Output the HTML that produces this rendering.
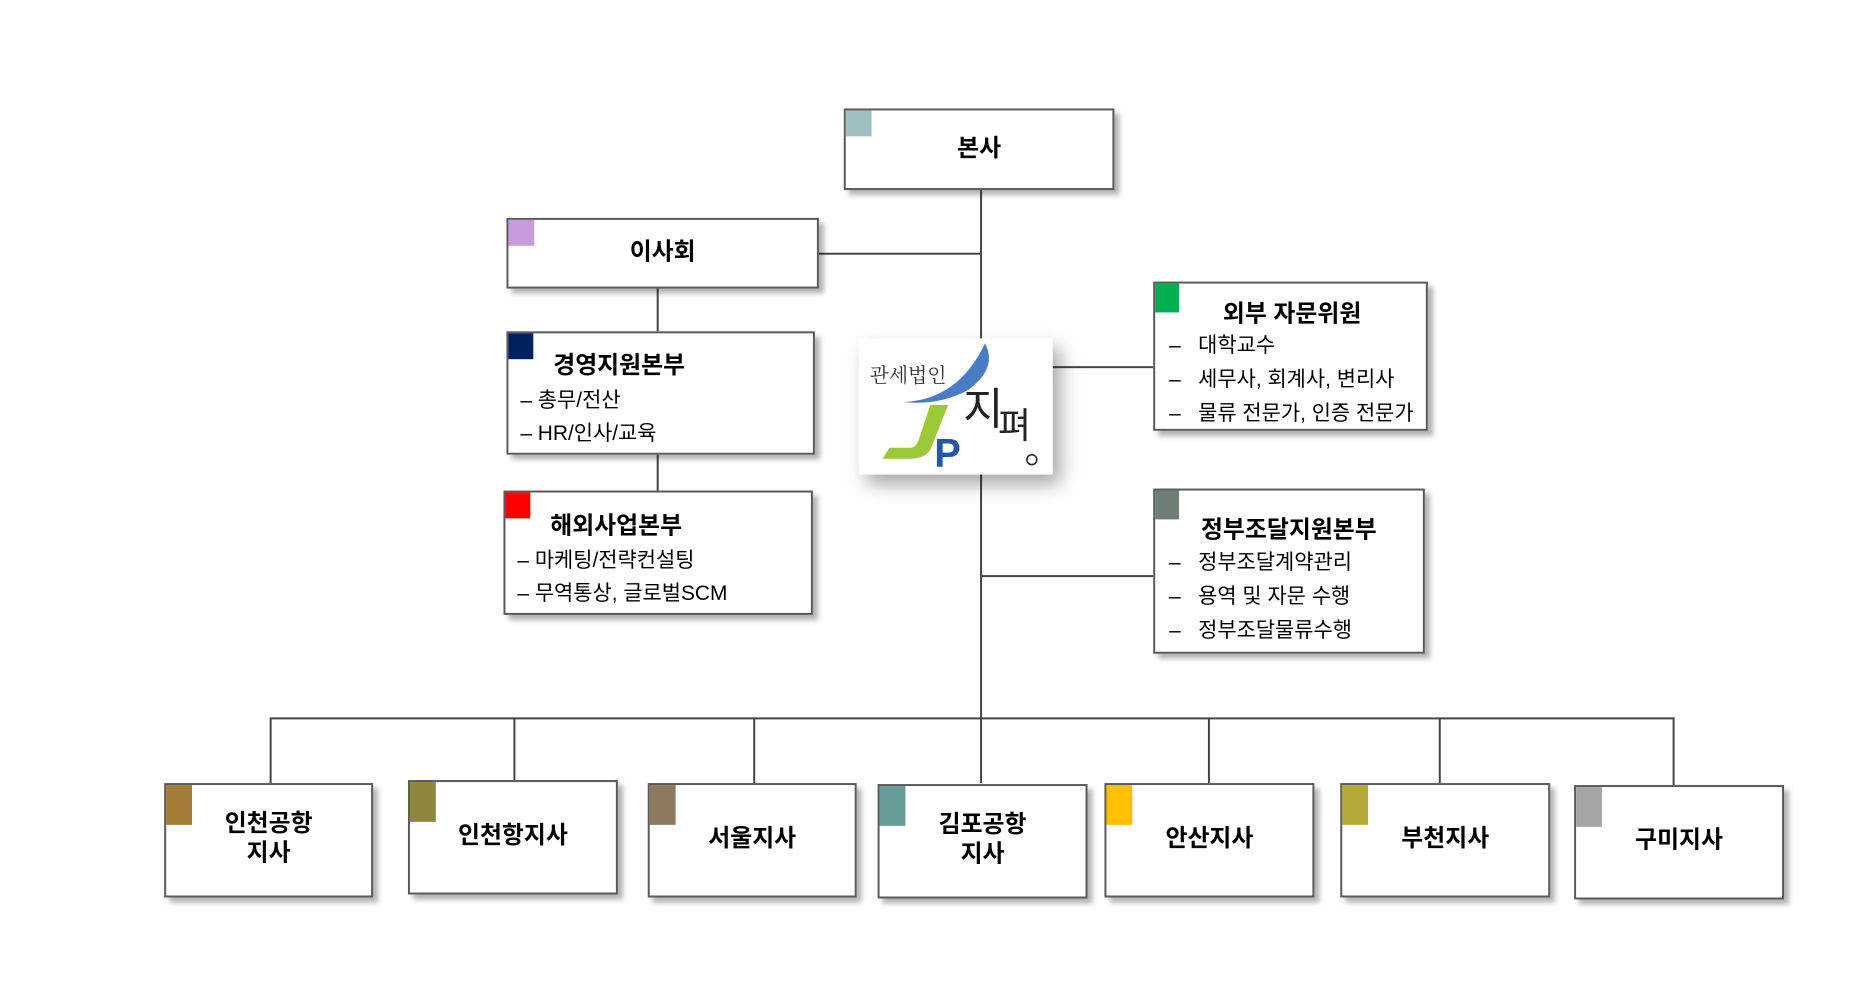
<!DOCTYPE html>
<html><head><meta charset="utf-8"><style>
body{margin:0;width:1863px;height:985px;background:#fff;position:relative;overflow:hidden;font-family:"Liberation Sans","Noto Sans CJK KR",sans-serif;color:#000}
#w{position:absolute;left:0;top:0;width:1863px;height:985px;transform:scale(0.995);transform-origin:0 0}
.b{position:absolute;box-sizing:border-box;border:2px solid #5a5a5a;background:#fff;box-shadow:5px 5px 5px rgba(0,0,0,.3)}
.sq{position:absolute;left:0;top:0;width:26px;height:26px}
.t{position:absolute;font-weight:bold;font-size:24px;white-space:nowrap}
.c{position:absolute;left:0;right:0;text-align:center;font-weight:bold;font-size:24px;line-height:30px}
.l{position:absolute;font-size:21px;white-space:nowrap}
.h{position:absolute;background:#444;height:2px}
.v{position:absolute;background:#444;width:2px}
</style></head><body><div id="w">
<div class="v" style="left:985px;top:191px;height:531px"></div>
<div class="h" style="left:823px;top:254px;width:163px"></div>
<div class="v" style="left:660px;top:290px;height:43px"></div>
<div class="v" style="left:660px;top:457px;height:36px"></div>
<div class="h" style="left:1058px;top:368px;width:101px"></div>
<div class="h" style="left:986px;top:578px;width:173px"></div>
<div class="h" style="left:272px;top:721px;width:1411px"></div>
<div class="v" style="left:271px;top:721px;height:66px"></div>
<div class="v" style="left:516px;top:721px;height:63px"></div>
<div class="v" style="left:757px;top:721px;height:66px"></div>
<div class="v" style="left:985px;top:721px;height:66px"></div>
<div class="v" style="left:1214px;top:721px;height:66px"></div>
<div class="v" style="left:1446px;top:721px;height:66px"></div>
<div class="v" style="left:1681px;top:721px;height:68px"></div>

<div class="b" style="left:848px;top:109px;width:272px;height:82px"><div class="sq" style="background:#9fc0c0"></div><div class="c" style="top:24px">본사</div></div>
<div class="b" style="left:509px;top:219px;width:314px;height:71px"><div class="sq" style="background:#c89cdc"></div><div class="c" style="top:18px">이사회</div></div>
<div class="b" style="left:509px;top:333px;width:310px;height:124px"><div class="sq" style="background:#002060;width:25px"></div>
<div class="t" style="left:45px;top:12px">경영지원본부</div>
<div class="l" style="left:12px;top:51px">– 총무/전산</div>
<div class="l" style="left:12px;top:84px">– HR/인사/교육</div></div>
<div class="b" style="left:506px;top:493px;width:311px;height:125px"><div class="sq" style="background:#ff0000;width:25px"></div>
<div class="t" style="left:45px;top:13px">해외사업본부</div>
<div class="l" style="left:12px;top:52px">– 마케팅/전략컨설팅</div>
<div class="l" style="left:12px;top:85px">– 무역통상, 글로벌SCM</div></div>

<div class="b" style="left:1159px;top:283px;width:276px;height:150px"><div class="sq" style="background:#00b050;width:24px;height:29px"></div>
<div class="t" style="left:68px;top:10px">외부 자문위원</div>
<div class="l" style="left:14px;top:46px">–&nbsp;&nbsp; 대학교수</div>
<div class="l" style="left:14px;top:80px">–&nbsp;&nbsp; 세무사, 회계사, 변리사</div>
<div class="l" style="left:14px;top:114px">–&nbsp;&nbsp; 물류 전문가, 인증 전문가</div></div>
<div class="b" style="left:1159px;top:491px;width:273px;height:166px"><div class="sq" style="background:#6f7f76;width:24px;height:29px"></div>
<div class="t" style="left:46px;top:19px">정부조달지원본부</div>
<div class="l" style="left:14px;top:56px">–&nbsp;&nbsp; 정부조달계약관리</div>
<div class="l" style="left:14px;top:90px">–&nbsp;&nbsp; 용역 및 자문 수행</div>
<div class="l" style="left:14px;top:124px">–&nbsp;&nbsp; 정부조달물류수행</div></div>

<div style="position:absolute;left:863px;top:340px;width:195px;height:137px;background:#fff;box-shadow:8px 10px 18px rgba(0,0,0,.35)">
<svg width="195" height="137" viewBox="0 0 195 137">
<text x="11" y="44" font-family="Noto Serif CJK SC, serif" font-size="20" fill="#333">관세법인</text>
<path d="M45 64 Q100 62 127 5 Q140 30 110 52 Q80 68 45 64Z" fill="#4a7cc4"/>
<path d="M72 67 L90 67 L72 112 Q66 121 52 121 L24 121 L31 110 L52 110 Q58 110 61 100 Z" fill="#9cc93a"/>
<text x="76" y="129" font-family="Liberation Sans, sans-serif" font-weight="bold" font-size="40" fill="#2458a8">P</text>
<text x="105" y="86" font-family="Noto Sans CJK KR, sans-serif" font-size="44" fill="#222">지</text>
<text x="140" y="100" font-family="Noto Sans CJK KR, sans-serif" font-size="36" fill="#222">펴</text>
<circle cx="174" cy="122" r="5" fill="none" stroke="#222" stroke-width="1.5"/>
</svg></div>

<div class="b" style="left:165px;top:787px;width:210px;height:115px"><div class="sq" style="background:#a57b38;height:40px"></div><div class="c" style="top:24px">인천공항<br>지사</div></div>
<div class="b" style="left:410px;top:784px;width:211px;height:115px"><div class="sq" style="background:#8c873d;height:40px"></div><div class="c" style="top:39px">인천항지사</div></div>
<div class="b" style="left:651px;top:787px;width:210px;height:115px"><div class="sq" style="background:#8e785e;height:40px"></div><div class="c" style="top:39px">서울지사</div></div>
<div class="b" style="left:882px;top:788px;width:211px;height:115px"><div class="sq" style="background:#679b97;height:40px"></div><div class="c" style="top:24px">김포공항<br>지사</div></div>
<div class="b" style="left:1110px;top:787px;width:211px;height:115px"><div class="sq" style="background:#ffc000;height:40px"></div><div class="c" style="top:39px">안산지사</div></div>
<div class="b" style="left:1347px;top:787px;width:211px;height:115px"><div class="sq" style="background:#b4a838;height:40px"></div><div class="c" style="top:39px">부천지사</div></div>
<div class="b" style="left:1582px;top:789px;width:211px;height:115px"><div class="sq" style="background:#a6a6a6;height:40px"></div><div class="c" style="top:39px">구미지사</div></div>
</div></body></html>
